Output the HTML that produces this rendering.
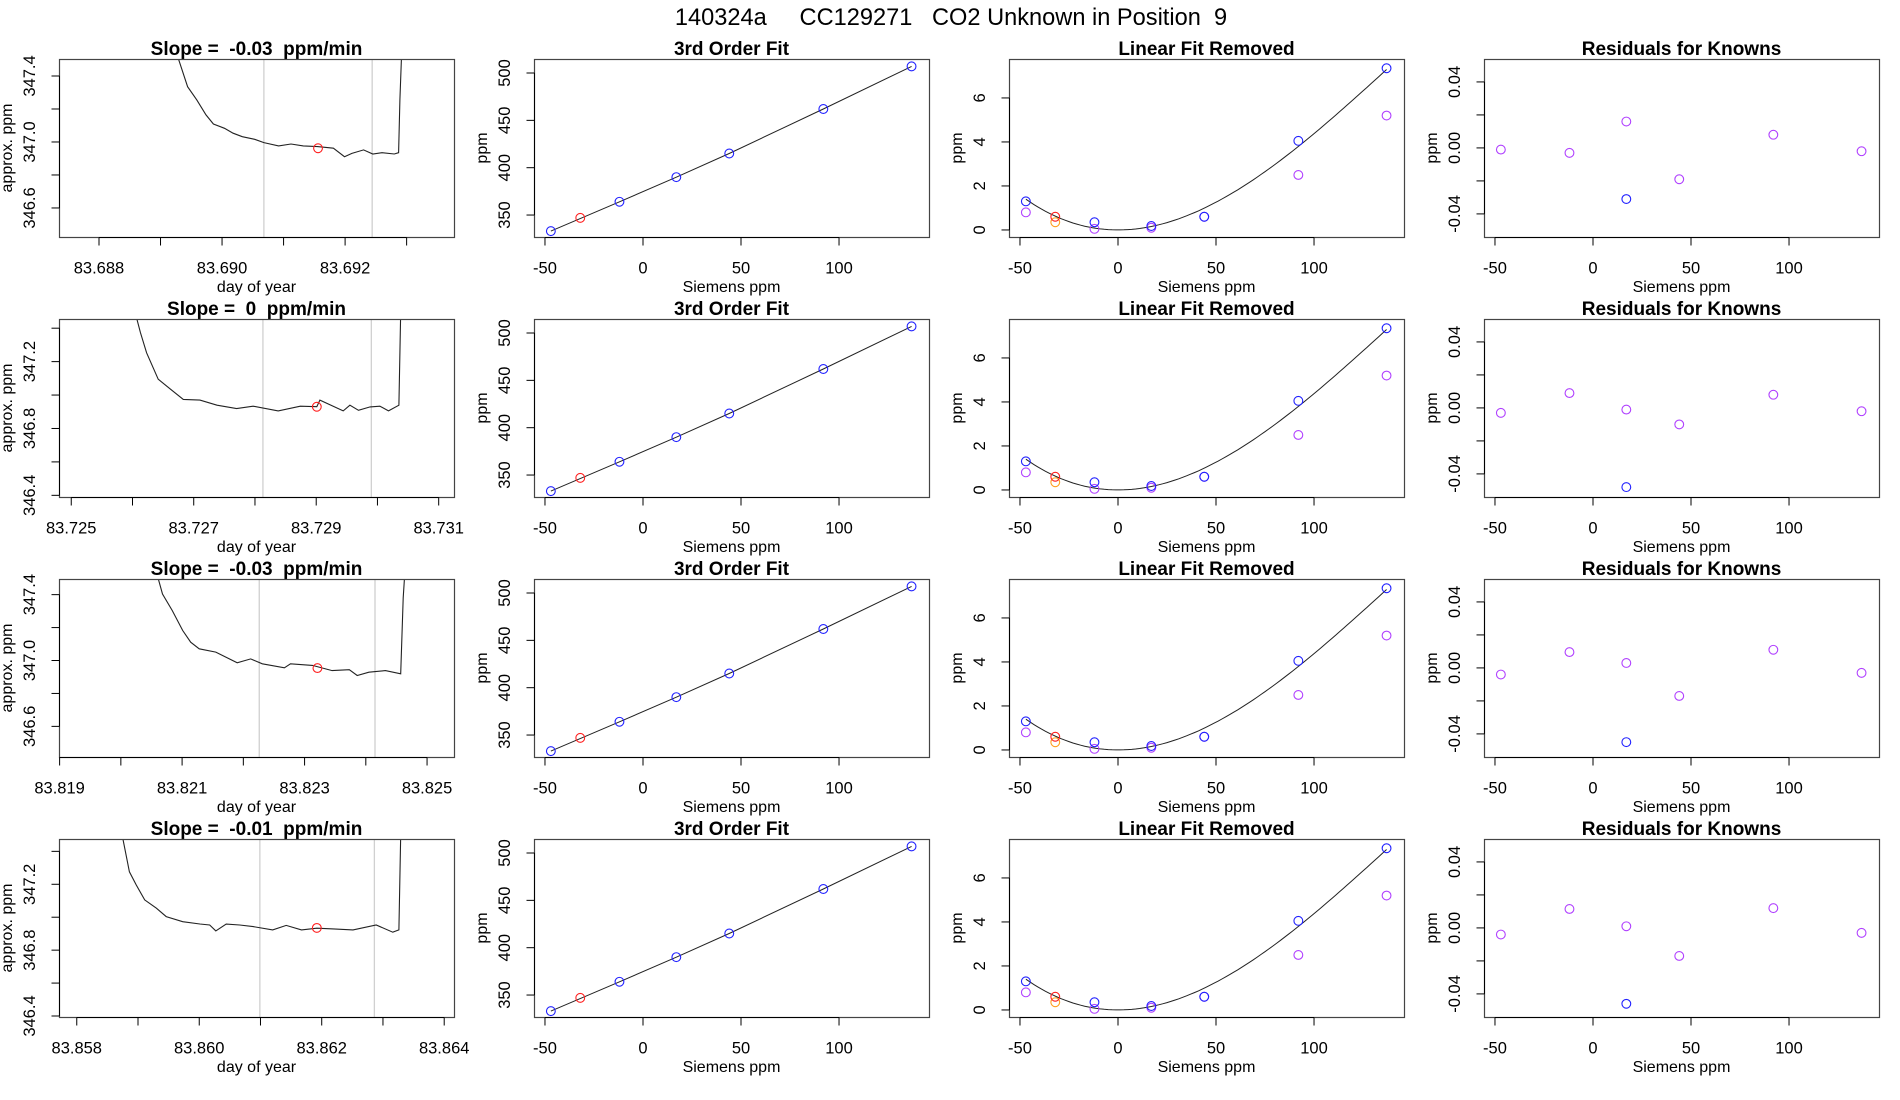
<!DOCTYPE html>
<html><head><meta charset="utf-8"><style>
html,body{margin:0;padding:0;background:#fff;}
svg{display:block;font-family:"Liberation Sans",Arial,sans-serif;}
text{white-space:pre;}
</style></head><body>
<svg id="fig" width="1900" height="1100" viewBox="0 0 1900 1100">
<text x="951" y="25" text-anchor="middle" font-size="23.6" fill="#000" xml:space="preserve">140324a     CC129271   CO2 Unknown in Position  9</text>
</svg>
<script>
// ---- Column 1: time traces ----
const slopeLabels = ["-0.03", "0", "-0.03", "-0.01"];
const row1Times = [83.68925,83.68944,83.68959,83.68974,83.68986,83.69004,83.69018,83.69033,83.69053,83.69068,83.69092,83.69112,83.69132,83.69155,83.69181,83.69199,83.69211,83.69230,83.69245,83.69260,83.69280,83.69287,83.69289,83.69292];
const row1Values = [347.55,347.335,347.255,347.164,347.109,347.083,347.053,347.032,347.016,346.996,346.976,346.988,346.976,346.972,346.962,346.911,346.931,346.952,346.927,346.935,346.927,346.935,347.255,347.55];
const row2Times = [83.72604,83.72613,83.72623,83.72642,83.72662,83.72683,83.72710,83.72738,83.72770,83.72797,83.72838,83.72874,83.72901,83.72906,83.72944,83.72955,83.72969,83.72988,83.73004,83.73018,83.73035,83.73038];
const row2Values = [347.5,347.374,347.253,347.095,347.035,346.974,346.970,346.939,346.919,346.933,346.905,346.933,346.930,346.970,346.905,346.939,346.909,346.929,346.933,346.905,346.939,347.5];
const row3Times = [83.82057,83.82068,83.82084,83.82101,83.82114,83.82128,83.82155,83.82190,83.82212,83.82231,83.82267,83.82277,83.82313,83.82345,83.82373,83.82386,83.82405,83.82432,83.82457,83.82461,83.82464];
const row3Values = [347.55,347.404,347.303,347.182,347.111,347.071,347.051,346.986,347.010,346.980,346.956,346.980,346.970,346.939,346.944,346.909,346.929,346.939,346.919,347.38,347.55];
const row4Times = [83.85874,83.85886,83.85897,83.85911,83.85930,83.85946,83.85973,83.86001,83.86017,83.86027,83.86044,83.86066,83.86088,83.86120,83.86142,83.86167,83.86192,83.86219,83.86251,83.86289,83.86316,83.86326,83.86329];
const row4Values = [347.5,347.276,347.196,347.105,347.055,347.004,346.973,346.959,346.953,346.917,346.958,346.953,346.943,346.923,346.950,346.923,346.933,346.929,346.923,346.953,346.909,346.923,347.5];
const traceTimes = [row1Times, row2Times, row3Times, row4Times];
const traceValues = [row1Values, row2Values, row3Values, row4Values];
const unknownTimes = [83.69156, 83.72901, 83.82321, 83.86192];
const unknownValues = [346.962, 346.93, 346.954, 346.935];
const windowStart = [83.69068, 83.72813, 83.82226, 83.86099];
const windowEnd = [83.69244, 83.72990, 83.82415, 83.86286];
const timeMin = [83.68735, 83.72480, 83.81899, 83.85771];
const timeMax = [83.69377, 83.73125, 83.82544, 83.86416];
const ppmMin = [346.424, 346.39, 346.414, 346.394];
const ppmMax = [347.503, 347.455, 347.495, 347.475];
const timeTickStart = [83.688, 83.725, 83.819, 83.858];
const timeTickCount = [6, 7, 7, 7];
const ppmTicks = [[346.6,346.8,347.0,347.2,347.4],[346.4,346.6,346.8,347.0,347.2,347.4],[346.6,346.8,347.0,347.2,347.4],[346.4,346.6,346.8,347.0,347.2,347.4]];
const ppmTickLabels = [["346.6","","347.0","","347.4"],["346.4","","346.8","","347.2",""],["346.6","","347.0","","347.4"],["346.4","","346.8","","347.2",""]];

// ---- Column 2: calibration ----
const knownSiemens = [-47, -12, 17, 44, 92, 137];
const knownPpm = [333, 364, 390, 415, 462, 507];
const unknownSiemens = [-32];
const unknownPpm = [347];
const calTicks = [350, 400, 450, 500];
const sTicks = [-50, 0, 50, 100];

// ---- Column 3: linear fit removed ----
const nonlinKnown = [1.3, 0.35, 0.18, 0.6, 4.05, 7.35];
const nonlinPurple = [0.8, 0.05, 0.1, 0.6, 2.5, 5.2];
const nonlinRed = [0.6];
const nonlinOrange = [0.35];
const curveCoefs = [0, 0, 0.000571, -0.000001332];
const nlTicks = [0, 2, 4, 6];

// ---- Column 4: residuals ----
const residRow1 = [-0.001, -0.003, 0.016, -0.019, 0.008, -0.002];
const residRow2 = [-0.003, 0.009, -0.001, -0.010, 0.008, -0.002];
const residRow3 = [-0.004, 0.0096, 0.003, -0.017, 0.011, -0.003];
const residRow4 = [-0.004, 0.0115, 0.001, -0.017, 0.012, -0.003];
const residuals = [residRow1, residRow2, residRow3, residRow4];
const residBlue = [-0.031, -0.048, -0.045, -0.046];
const residTicks = [-0.04, -0.02, 0, 0.02, 0.04];
const residTickLabels = ["-0.04", "", "0.00", "", "0.04"];

const NS = "http://www.w3.org/2000/svg";
const svg = document.getElementById("fig");
function mk(tag, attrs, parent) {
  const e = document.createElementNS(NS, tag);
  for (const k in attrs) e.setAttribute(k, attrs[k]);
  (parent || svg).appendChild(e);
  return e;
}
function lin(d0, d1, r0, r1) { return v => r0 + (v - d0) / (d1 - d0) * (r1 - r0); }

const PW = 395, PH = 178, COLX = [59, 534, 1009, 1484], ROWY = [59, 319, 579, 839];
const TICKFS = 16.5;

function panel(col, row, title, xmin, xmax, ymin, ymax, xlab, ylab) {
  const L = COLX[col], T = ROWY[row];
  const g = mk("g", {});
  
  
  const sx = lin(xmin, xmax, L, L + PW), sy = lin(ymin, ymax, T + PH, T);
  const t = mk("text", {x: L + PW / 2, y: T - 4, "text-anchor": "middle", "font-size": 19, "font-weight": "bold", "xml:space": "preserve"}, g);
  t.textContent = title;
  
  
  const xl = mk("text", {x: L + PW / 2, y: T + PH + 55, "text-anchor": "middle", "font-size": 16}, g);
  xl.textContent = xlab;
  
  
  const yx = L - 47, yy = T + PH / 2;
  const yl = mk("text", {x: yx, y: yy, "text-anchor": "middle", "font-size": 16, transform: "rotate(-90 " + yx + " " + yy + ")"}, g);
  yl.textContent = ylab;
  
  
  const clipId = "c" + row + "_" + col;
  const cp = mk("clipPath", {id: clipId}, g);
  mk("rect", {x: L, y: T, width: PW, height: PH}, cp);
  const plot = mk("g", {"clip-path": "url(#" + clipId + ")"}, g);
  const box = mk("rect", {x: L + 0.5, y: T + 0.5, width: PW, height: PH, fill: "none", stroke: "#444", "stroke-width": 1.2}, g);
  
  
  return {g, plot, sx, sy, L, T};
}
function xAxis(p, ticks, labels) {
  const y0 = p.T + PH + 0.5;
  const ax = mk("g", {}, p.g);
  
  
  mk("line", {x1: p.sx(ticks[0]), x2: p.sx(ticks[ticks.length - 1]), y1: y0, y2: y0, stroke: "#000"}, ax);
  ticks.forEach((v, i) => {
    const x = p.sx(v);
    mk("line", {x1: x, x2: x, y1: y0, y2: y0 + 8, stroke: "#000"}, ax);
    if (labels[i]) {
      const tx = mk("text", {x: x, y: y0 + 36, "text-anchor": "middle", "font-size": TICKFS}, ax);
      tx.textContent = labels[i];
      
      
    }
  });
}
function yAxis(p, ticks, labels) {
  const x0 = p.L + 0.5;
  const ax = mk("g", {}, p.g);
  
  
  mk("line", {x1: x0, x2: x0, y1: p.sy(ticks[0]), y2: p.sy(ticks[ticks.length - 1]), stroke: "#000"}, ax);
  ticks.forEach((v, i) => {
    const y = p.sy(v);
    mk("line", {x1: x0, x2: x0 - 8, y1: y, y2: y, stroke: "#000"}, ax);
    if (labels[i]) {
      const lx = p.L - 24;
      const tx = mk("text", {x: lx, y: y, "text-anchor": "middle", "font-size": TICKFS, transform: "rotate(-90 " + lx + " " + y + ")"}, ax);
      tx.textContent = labels[i];
      
      
    }
  });
}
function circle(p, x, y, color, name) {
  const c = mk("circle", {cx: p.sx(x), cy: p.sy(y), r: 4.4, fill: "none", stroke: color, "stroke-width": 1.1}, p.plot);
  
  
}
const sLabels = sTicks.map(String);

for (let r = 0; r < 4; r++) {
  // panel 1
  const p1 = panel(0, r, "Slope =  " + slopeLabels[r] + "  ppm/min", timeMin[r], timeMax[r], ppmMin[r], ppmMax[r], "day of year", "approx. ppm");
  [windowStart[r], windowEnd[r]].forEach(t => {
    const wl = mk("line", {x1: p1.sx(t), x2: p1.sx(t), y1: p1.T, y2: p1.T + PH, stroke: "#d0d0d0", "stroke-width": 1.3}, p1.plot);
    
    
  });
  const pts = traceTimes[r].map((t, i) => p1.sx(t).toFixed(1) + "," + p1.sy(traceValues[r][i]).toFixed(1)).join(" ");
  const tr = mk("polyline", {points: pts, fill: "none", stroke: "#222", "stroke-width": 1.1}, p1.plot);
  
  
  circle(p1, unknownTimes[r], unknownValues[r], "#ff2020", "unknown-mean-point");
  const tt = [], tl = [];
  for (let i = 0; i < timeTickCount[r]; i++) {
    const v = timeTickStart[r] + i * 0.001;
    tt.push(v);
    tl.push(i % 2 === 0 ? v.toFixed(3) : "");
  }
  xAxis(p1, tt, tl);
  yAxis(p1, ppmTicks[r], ppmTickLabels[r]);

  // panel 2
  const p2 = panel(1, r, "3rd Order Fit", -55.6, 145.9, 326.8, 514.8, "Siemens ppm", "ppm");
  const fitPts = knownSiemens.map((x, i) => p2.sx(x).toFixed(1) + "," + p2.sy(knownPpm[i]).toFixed(1)).join(" ");
  const fl = mk("polyline", {points: fitPts, fill: "none", stroke: "#222", "stroke-width": 1}, p2.plot);
  
  
  knownSiemens.forEach((x, i) => circle(p2, x, knownPpm[i], "#2020ff", "known-standard-point"));
  unknownSiemens.forEach((x, i) => circle(p2, x, unknownPpm[i], "#ff2020", "unknown-point"));
  xAxis(p2, sTicks, sLabels);
  yAxis(p2, calTicks, calTicks.map(String));

  // panel 3
  const p3 = panel(2, r, "Linear Fit Removed", -55.6, 145.9, -0.32, 7.77, "Siemens ppm", "ppm");
  const cp = [];
  for (let x = knownSiemens[0]; x <= knownSiemens[knownSiemens.length - 1]; x += 2) {
    const y = curveCoefs[0] + curveCoefs[1] * x + curveCoefs[2] * x * x + curveCoefs[3] * x * x * x;
    cp.push(p3.sx(x).toFixed(1) + "," + p3.sy(y).toFixed(1));
  }
  const cv = mk("polyline", {points: cp.join(" "), fill: "none", stroke: "#222", "stroke-width": 1}, p3.plot);
  
  
  knownSiemens.forEach((x, i) => circle(p3, x, nonlinPurple[i], "#b040ff", "nonlinear-purple-point"));
  knownSiemens.forEach((x, i) => circle(p3, x, nonlinKnown[i], "#2020ff", "nonlinear-known-point"));
  unknownSiemens.forEach((x, i) => circle(p3, x, nonlinOrange[i], "#ffa020", "nonlinear-orange-point"));
  unknownSiemens.forEach((x, i) => circle(p3, x, nonlinRed[i], "#ff2020", "nonlinear-unknown-point"));
  xAxis(p3, sTicks, sLabels);
  yAxis(p3, nlTicks, nlTicks.map(String));

  // panel 4
  const p4 = panel(3, r, "Residuals for Knowns", -55.6, 145.9, -0.054, 0.0539, "Siemens ppm", "ppm");
  knownSiemens.forEach((x, i) => circle(p4, x, residuals[r][i], "#b040ff", "residual-point"));
  circle(p4, knownSiemens[2], residBlue[r], "#2020ff", "residual-blue-point");
  xAxis(p4, sTicks, sLabels);
  yAxis(p4, residTicks, residTickLabels);
}
</script>
</body></html>
